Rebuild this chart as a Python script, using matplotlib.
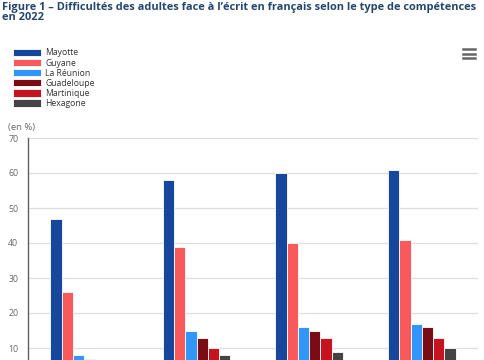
import numpy as np
import matplotlib.pyplot as plt
from matplotlib.lines import Line2D

plt.rcParams['font.family'] = ['Open Sans', 'DejaVu Sans']

# categories (labels lie below the visible crop)
categories = ['Lecture de mots', 'Production écrite', 'Compréhension de texte', 'Ensemble']
series = ['Mayotte', 'Guyane', 'La Réunion', 'Guadeloupe', 'Martinique', 'Hexagone']
mayotte = [47, 58, 60, 61]
guyane = [26, 39, 40, 41]
reunion = [8, 15, 16, 17]
guadeloupe = [7, 13, 15, 16]
martinique = [6, 10, 13, 13]
hexagone = [5, 8, 9, 10]
values = [mayotte, guyane, reunion, guadeloupe, martinique, hexagone]
colors = ['#17479c', '#f85a5c', '#3096fb', '#7a0c16', '#c5141f', '#444444']
yticks = [0, 10, 20, 30, 40, 50, 60, 70]

fig = plt.figure(figsize=(4.85, 3.6), dpi=100)
ax = fig.add_axes([28 / 485, -23 / 360, 450 / 485, 245 / 360])

x = np.arange(len(categories))
w = 0.1
for i, (name, vals, col) in enumerate(zip(series, values, colors)):
    ax.bar(x + (i - 2.5) * w, vals, width=w, color=col, edgecolor='white',
           linewidth=0.6, label=name, zorder=3)

ax.set_xlim(-0.5, len(categories) - 0.5)
ax.set_ylim(0, 70)
ax.set_yticks(yticks)
ax.set_yticklabels([str(t) for t in yticks], fontsize=6.3, color='#666666')
ax.tick_params(axis='y', length=0, pad=7)
ax.set_xticks(x)
ax.set_xticklabels(categories, fontsize=6, color='#666666')
ax.tick_params(axis='x', length=0, pad=20)
ax.grid(axis='y', color='#dedede', linewidth=0.9, zorder=0)
for s in ['top', 'right', 'bottom']:
    ax.spines[s].set_visible(False)
ax.spines['left'].set_color('#606060')
ax.spines['left'].set_linewidth(1.0)

fig.text(2 / 485, 1 - 2 / 360,
         'Figure 1 – Difficultés des adultes face à l’écrit en français selon le type de compétences\nen 2022',
         fontsize=7.95, fontweight='bold', color='#25476e', va='top', ha='left',
         linespacing=0.82)

fig.text(8 / 485, 1 - 127 / 360, '(en %)', fontsize=6.8, color='#666666', va='center')

leg = fig.legend(loc='upper left', bbox_to_anchor=(10 / 485, 1 - 45 / 360), frameon=False,
                 fontsize=6.2, handlelength=3.2, handleheight=0.9, labelspacing=0.13,
                 handletextpad=0.5, borderaxespad=0)
for t in leg.get_texts():
    t.set_color('#333333')

# export menu icon
for yy in [49, 53.5, 58]:
    fig.add_artist(Line2D([463 / 485, 475 / 485], [1 - yy / 360] * 2,
                          color='#666666', linewidth=1.8))

fig.savefig('out.png', dpi=100)
